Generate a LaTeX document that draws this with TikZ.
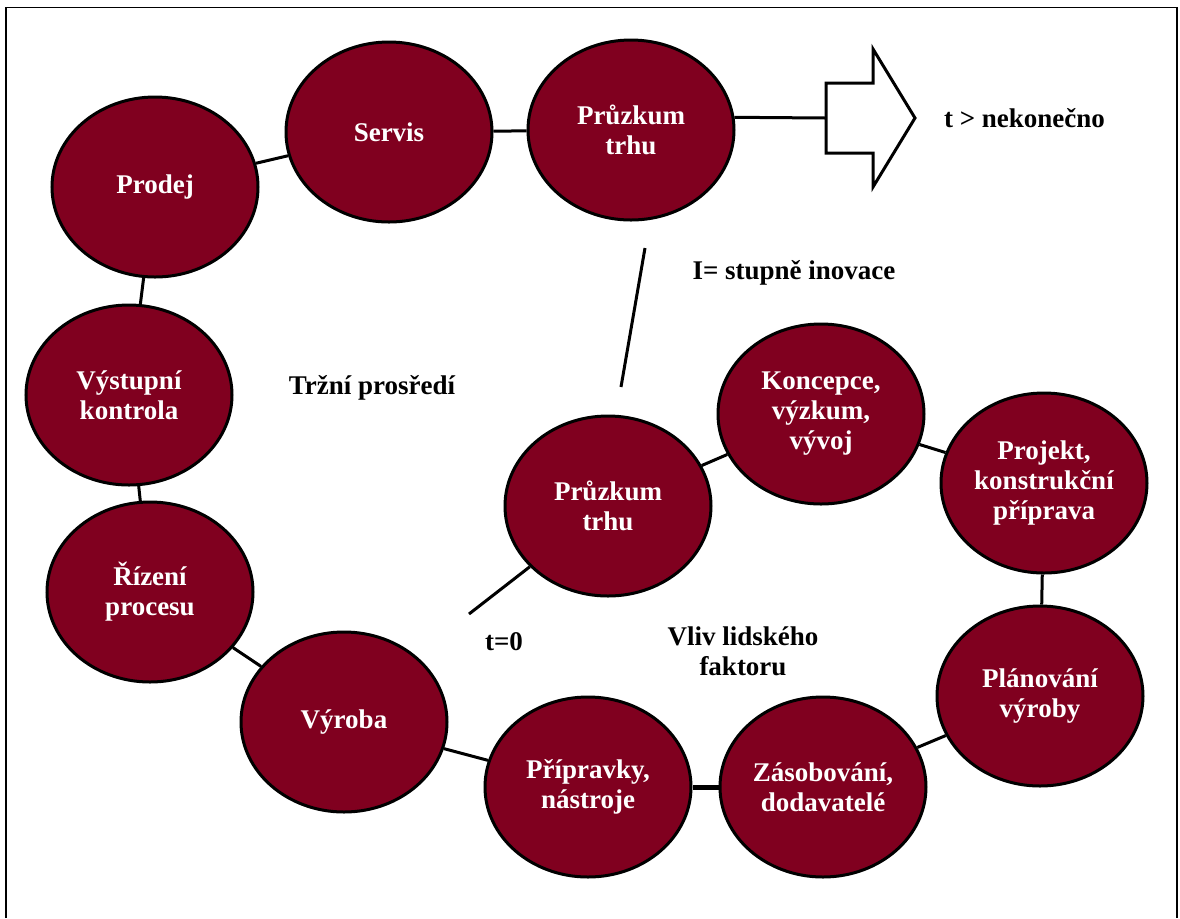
\documentclass[tikz,border=0pt]{standalone}
\usepackage{fontspec}
\setmainfont{Liberation Serif}
\usetikzlibrary{shapes.geometric}
\definecolor{wine}{HTML}{80001F}

\begin{document}
\begin{tikzpicture}[
    x=0.5pt, y=-0.5pt,
    stage/.style={ellipse, draw=black, line width=1.5pt, fill=wine, text=white,
                  minimum width=103pt, minimum height=90pt, inner sep=0pt, align=center,
                  font=\fontsize{13.5}{15}\selectfont\bfseries},
    link/.style={line width=1.5pt, black},
    label/.style={align=center, font=\fontsize{13.5}{15}\selectfont\bfseries}
]
\useasboundingbox (0,0) rectangle (1180,918);
% Frame
\draw[line width=0.8pt] (6,918) -- (6,7.5) -- (1177,7.5) -- (1177,918);

% Stages
\node[stage] (servis) at (389,132) {Servis};
\node[stage] (prodej) at (155,187) {Prodej};
\node[stage] (vystup) at (129,395) {Výstupní\\kontrola};
\node[stage] (pruzkumtop) at (631,130) {Průzkum\\trhu};
\node[stage] (rizeni) at (150,592) {Řízení\\procesu};
\node[stage] (vyroba) at (344,722) {Výroba};
\node[stage] (pripravky) at (588,787) {Přípravky,\\nástroje};
\node[stage] (zasob) at (823,787) {Zásobování,\\dodavatelé};
\node[stage] (planovani) at (1040,696) {Plánování\\výroby};
\node[stage] (projekt) at (1044,483) {Projekt,\\konstrukční\\příprava};
\node[stage] (koncepce) at (821,414) {Koncepce,\\výzkum,\\vývoj};
\node[stage] (pruzkum) at (608,506) {Průzkum\\trhu};

% Free ends
\coordinate (arrowtail) at (826,118);
\coordinate (tzero) at (469,614);
\coordinate (inovtop) at (645,248);
\coordinate (inovbot) at (621,387);

% Links
\draw[link] (pruzkum) -- (koncepce);
\draw[link] (koncepce) -- (projekt);
\draw[link] (projekt) -- (planovani);
\draw[link] (planovani) -- (zasob);
\draw[link, line width=2.5pt] (zasob) -- (pripravky);
\draw[link] (pripravky) -- (vyroba);
\draw[link] (vyroba) -- (rizeni);
\draw[link] (rizeni) -- (vystup);
\draw[link] (vystup) -- (prodej);
\draw[link] (prodej) -- (servis);
\draw[link] (servis) -- (pruzkumtop);
\draw[link] (pruzkumtop.7) -- (arrowtail);
\draw[link] (pruzkum) -- (tzero);
\draw[link] (inovtop) -- (inovbot);

% Block arrow
\draw[link, fill=white, line join=miter] (826,83) -- (873,83) -- (873,49) -- (915,118)
    -- (873,187) -- (873,153) -- (826,153) -- cycle;

% Labels
\node[label, anchor=west] (infinity) at (937,118) {t > nekonečno};
\node[label] (inovace) at (794,273) {I= stupně inovace};
\node[label] (trh) at (372,388) {Tržní prosředí};
\node[label] (tnula) at (504,642) {t=0};
\node[label] (lidsky) at (743,651) {Vliv lidského\\faktoru};

\end{tikzpicture}
\end{document}
